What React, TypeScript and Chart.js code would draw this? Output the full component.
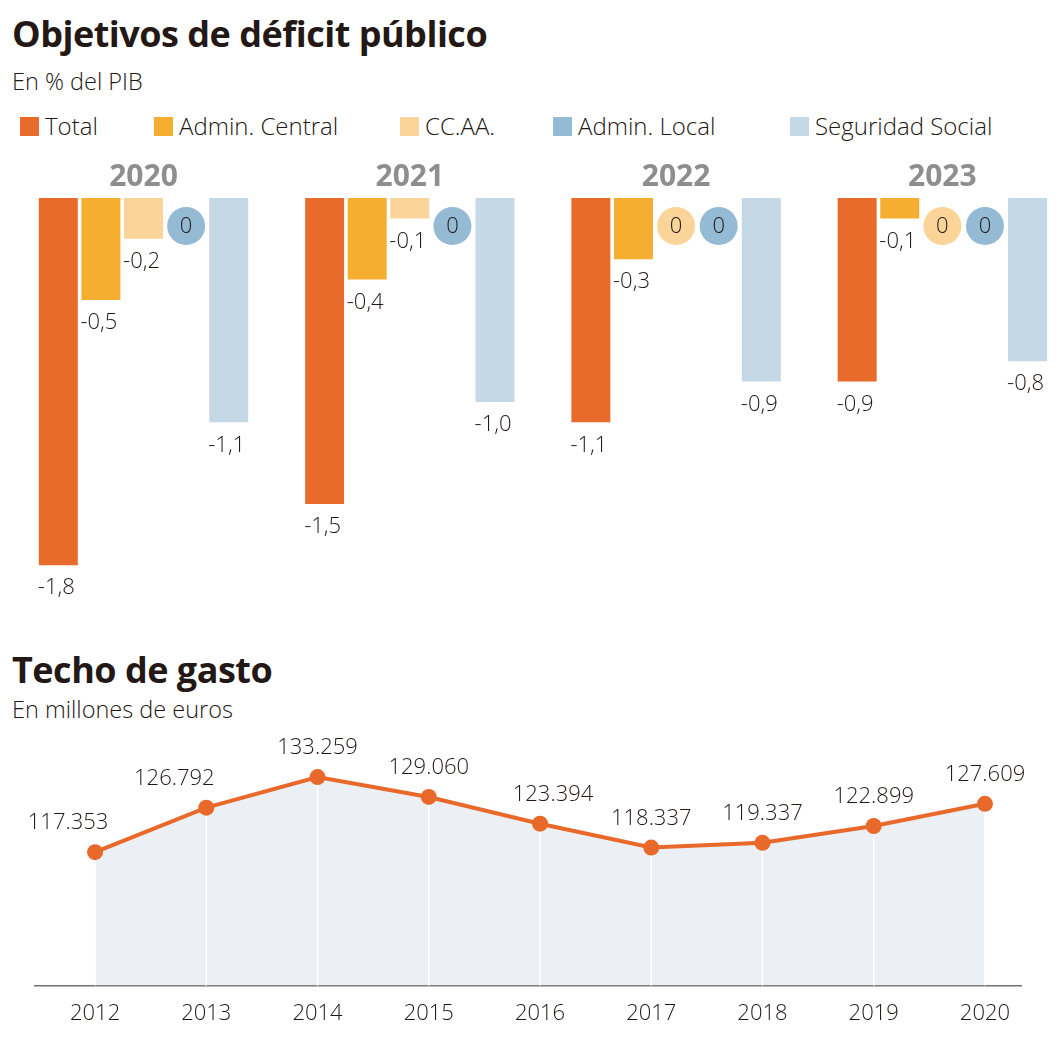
import React, { useEffect, useRef } from "react";
import { Chart, registerables } from "chart.js";

Chart.register(...registerables);

// ---------- Data ----------
const GROUP_YEARS = ["2020", "2021", "2022", "2023"];
const SERIES_NAMES = ["Total", "Admin. Central", "CC.AA.", "Admin. Local", "Seguridad Social"];
const TOTAL = [-1.8, -1.5, -1.1, -0.9];
const ADMIN_CENTRAL = [-0.5, -0.4, -0.3, -0.1];
const CCAA = [-0.2, -0.1, 0, 0];
const ADMIN_LOCAL = [0, 0, 0, 0];
const SEGURIDAD_SOCIAL = [-1.1, -1.0, -0.9, -0.8];

const GASTO_YEARS = ["2012", "2013", "2014", "2015", "2016", "2017", "2018", "2019", "2020"];
const GASTO = [117353, 126792, 133259, 129060, 123394, 118337, 119337, 122899, 127609];

// ---------- Styles ----------
const FONT = "'Open Sans', 'Noto Sans', sans-serif";
const INK = "#231815";
const COLORS = ["#E96B2B", "#F5AE30", "#FAD498", "#94BAD4", "#C5D8E5"];
const LINE_COLOR = "#E8692A";
const AREA_COLOR = "#ECF0F4";
const YEAR_GRAY = "#8E8E8E";
// horizontal nudges of the line labels (as in the original layout)
const LABEL_DX = [-27, -32, 0, 0, 13, 0, 0, 0, 0];
// legend item widths (layout only)
const LEGEND_ITEM_WIDTHS = [134, 246, 153, 237, 260];

const DEFICIT_SERIES = [TOTAL, ADMIN_CENTRAL, CCAA, ADMIN_LOCAL, SEGURIDAD_SOCIAL];

const fmtDec = (v: number) => v.toFixed(1).replace(".", ",");
const fmtThousands = (v: number) => String(v).replace(/\B(?=(\d{3})+(?!\d))/g, ".");

const deficitLabelsPlugin = {
  id: "deficitLabels",
  afterDatasetsDraw(chart: any) {
    const ctx = chart.ctx;
    const zeroY = chart.scales.y.getPixelForValue(0);
    chart.data.datasets.forEach((ds: any, di: number) => {
      const meta = chart.getDatasetMeta(di);
      meta.data.forEach((bar: any, i: number) => {
        const v = DEFICIT_SERIES[di][i];
        ctx.save();
        ctx.font = `300 22px ${FONT}`;
        ctx.textAlign = "center";
        ctx.textBaseline = "middle";
        if (v === 0) {
          const cy = zeroY + 28;
          ctx.beginPath();
          ctx.arc(bar.x, cy, 19, 0, Math.PI * 2);
          ctx.fillStyle = ds.backgroundColor;
          ctx.fill();
          ctx.fillStyle = INK;
          ctx.fillText("0", bar.x, cy + 1);
        } else {
          ctx.fillStyle = INK;
          ctx.fillText(fmtDec(v), bar.x - 2, bar.y + 23);
        }
        ctx.restore();
      });
    });
  },
};

const gastoPlugin = {
  id: "gastoDecor",
  afterDatasetDraw(chart: any, args: any) {
    if (args.index !== 1) return;
    const ctx = chart.ctx;
    const meta = chart.getDatasetMeta(1);
    const bottom = chart.chartArea.bottom;
    ctx.save();
    ctx.strokeStyle = "#FFFFFF";
    ctx.lineWidth = 1.5;
    meta.data.forEach((pt: any) => {
      ctx.beginPath();
      ctx.moveTo(pt.x, pt.y);
      ctx.lineTo(pt.x, bottom);
      ctx.stroke();
    });
    ctx.restore();
  },
  afterDatasetsDraw(chart: any) {
    const ctx = chart.ctx;
    const meta = chart.getDatasetMeta(0);
    ctx.save();
    ctx.font = `300 22px ${FONT}`;
    ctx.textAlign = "center";
    ctx.textBaseline = "middle";
    ctx.fillStyle = INK;
    meta.data.forEach((pt: any, i: number) => {
      ctx.fillText(fmtThousands(GASTO[i]), pt.x + LABEL_DX[i], pt.y - 29);
    });
    ctx.restore();
  },
};

export default function App() {
  const barRef = useRef<HTMLCanvasElement | null>(null);
  const lineRef = useRef<HTMLCanvasElement | null>(null);

  useEffect(() => {
    const barChart = new Chart(barRef.current as HTMLCanvasElement, {
      type: "bar",
      data: {
        datasets: DEFICIT_SERIES.map((vals, s) => ({
          label: SERIES_NAMES[s],
          data: vals.map((v, i) => ({ x: i, y: v })),
          backgroundColor: COLORS[s],
          borderWidth: 0,
          categoryPercentage: 0.8,
          barPercentage: 0.915,
        })),
      } as any,
      options: {
        animation: false,
        responsive: false,
        maintainAspectRatio: false,
        layout: { padding: 0 },
        scales: {
          x: {
            type: "linear",
            position: "top",
            min: -0.539,
            max: 3.453,
            offset: false,
            afterBuildTicks: (axis: any) => {
              axis.ticks = GROUP_YEARS.map((_, i) => ({ value: i }));
            },
            ticks: {
              callback: (_v: any, i: number) => GROUP_YEARS[i],
              font: { family: FONT, size: 30, weight: "bold" },
              color: YEAR_GRAY,
              padding: 3,
              autoSkip: false,
              maxRotation: 0,
            },
            grid: { display: false, drawTicks: false },
            border: { display: false },
          },
          y: { min: -2.069, max: 0, display: false },
        },
        plugins: { legend: { display: false }, tooltip: { enabled: false } },
      } as any,
      plugins: [deficitLabelsPlugin],
    });

    const lineData = GASTO.map((v, i) => ({ x: i, y: v }));
    const lineChart = new Chart(lineRef.current as HTMLCanvasElement, {
      type: "line",
      data: {
        datasets: [
          {
            label: "Techo de gasto",
            data: lineData,
            borderColor: LINE_COLOR,
            borderWidth: 4,
            pointRadius: 8,
            pointBackgroundColor: LINE_COLOR,
            pointBorderWidth: 0,
            fill: false,
            tension: 0,
            order: 0,
          },
          {
            label: "area",
            data: lineData,
            borderWidth: 0,
            pointRadius: 0,
            backgroundColor: AREA_COLOR,
            fill: "start",
            tension: 0,
            order: 1,
          },
        ],
      } as any,
      options: {
        animation: false,
        responsive: false,
        maintainAspectRatio: false,
        layout: { padding: { left: 35, right: 42, top: 30, bottom: 21 } },
        scales: {
          x: {
            type: "linear",
            min: -0.54,
            max: 8.324,
            offset: false,
            z: 1,
            afterBuildTicks: (axis: any) => {
              axis.ticks = GASTO_YEARS.map((_, i) => ({ value: i }));
            },
            ticks: {
              callback: (_v: any, i: number) => GASTO_YEARS[i],
              font: { family: FONT, size: 22, weight: "300" },
              color: INK,
              padding: 15,
              autoSkip: false,
              maxRotation: 0,
            },
            grid: { display: false, drawTicks: false },
            border: { display: true, color: "#707070", width: 1.5 },
          },
          y: { min: 89100, max: 139000, display: false },
        },
        plugins: { legend: { display: false }, tooltip: { enabled: false } },
      } as any,
      plugins: [gastoPlugin],
    });

    return () => {
      barChart.destroy();
      lineChart.destroy();
    };
  }, []);

  const titleStyle: React.CSSProperties = {
    position: "absolute",
    left: 12,
    margin: 0,
    fontFamily: FONT,
    fontWeight: 700,
    fontSize: 36,
    lineHeight: "36px",
    color: INK,
    letterSpacing: "-0.5px",
    whiteSpace: "nowrap",
  };
  const subStyle: React.CSSProperties = {
    position: "absolute",
    left: 12,
    margin: 0,
    fontFamily: FONT,
    fontWeight: 300,
    fontSize: 23.5,
    lineHeight: "24px",
    color: INK,
    whiteSpace: "nowrap",
  };

  return (
    <div
      style={{
        position: "absolute",
        left: 0,
        top: 0,
        width: 1063,
        height: 1063,
        background: "#FFFFFF",
        overflow: "hidden",
      }}
    >
      <div style={{ ...titleStyle, top: 16 }}>Objetivos de déficit público</div>
      <div style={{ ...subStyle, top: 69 }}>En % del PIB</div>
      <div
        style={{
          position: "absolute",
          left: 20,
          top: 114,
          display: "flex",
          alignItems: "center",
          fontFamily: FONT,
          fontWeight: 300,
          fontSize: 24,
          lineHeight: "24px",
          color: INK,
          whiteSpace: "nowrap",
        }}
      >
        {SERIES_NAMES.map((name, i) => (
          <div
            key={name}
            style={{ display: "flex", alignItems: "center", width: LEGEND_ITEM_WIDTHS[i] }}
          >
            <span
              style={{
                display: "inline-block",
                width: 19,
                height: 19,
                background: COLORS[i],
                marginRight: 6,
                flex: "none",
              }}
            />
            <span>{name}</span>
          </div>
        ))}
      </div>
      <canvas
        ref={barRef}
        width={1063}
        height={464}
        style={{ position: "absolute", left: 0, top: 156 }}
      />
      <div style={{ ...titleStyle, top: 652 }}>Techo de gasto</div>
      <div style={{ ...subStyle, top: 697 }}>En millones de euros</div>
      <canvas
        ref={lineRef}
        width={1063}
        height={343}
        style={{ position: "absolute", left: 0, top: 720 }}
      />
    </div>
  );
}
